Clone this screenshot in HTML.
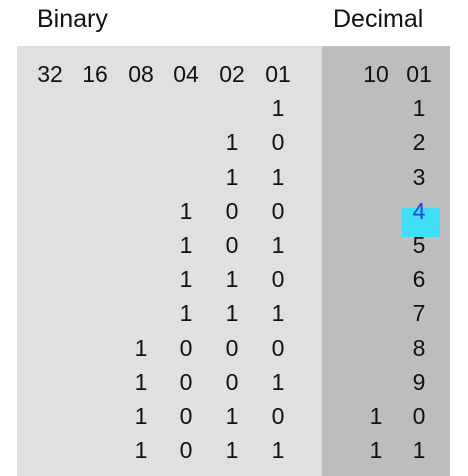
<!DOCTYPE html>
<html><head><meta charset="utf-8"><style>
html,body{margin:0;padding:0;background:#fff;width:468px;height:476px;overflow:hidden;position:relative;font-family:"Liberation Sans",sans-serif;color:#111}
.t{position:absolute;font-size:23px;line-height:24px;transform:translate(-50%,-50%);white-space:nowrap}
</style></head><body>
<div style="position:absolute;left:37px;top:5px;font-size:25px">Binary</div>
<div style="position:absolute;left:333px;top:5px;font-size:25px">Decimal</div>
<div style="position:absolute;left:17px;top:46px;width:305px;height:430px;background:#e0e0e0"></div>
<div style="position:absolute;left:322px;top:46px;width:128px;height:430px;background:#bdbdbd"></div>
<div style="position:absolute;left:402px;top:208px;width:38px;height:29px;background:#3fdff5"></div>
<div id="c"></div>
<script>
const binHeaders=["32","16","08","04","02","01"];
const decHeaders=["10","01"];
const values=[1,2,3,4,5,6,7,8,9,10,11];
const highlightValue=4;
const c=document.getElementById('c');
const binX=[50,95,141,186,232,278], decX=[376,419];
function rowY(i){return 74+34.2*i;}
function put(txt,x,y,name,color){
  const el=document.createElement('div');
  el.className='t';el.textContent=txt;
  el.style.left=x+'px';el.style.top=y+'px';
  if(color)el.style.color=color;
  
  
  c.appendChild(el);
}
binHeaders.forEach((h,j)=>put(h,binX[j],rowY(0),'binary-header-'+h));
decHeaders.forEach((h,j)=>put(h,decX[j],rowY(0),'decimal-header-'+h));
values.forEach((v,i)=>{
  const bits=v.toString(2);
  const y=rowY(i+1);
  for(let k=0;k<bits.length;k++){
    put(bits[bits.length-1-k],binX[5-k],y,'bit-'+v+'-'+k);
  }
  const d=String(v);
  const col=v===highlightValue?'#2040e0':null;
  put(d[d.length-1],decX[1],y,'decimal-ones-'+v,col);
  if(d.length>1)put(d[0],decX[0],y,'decimal-tens-'+v);
});
</script>
</body></html>
